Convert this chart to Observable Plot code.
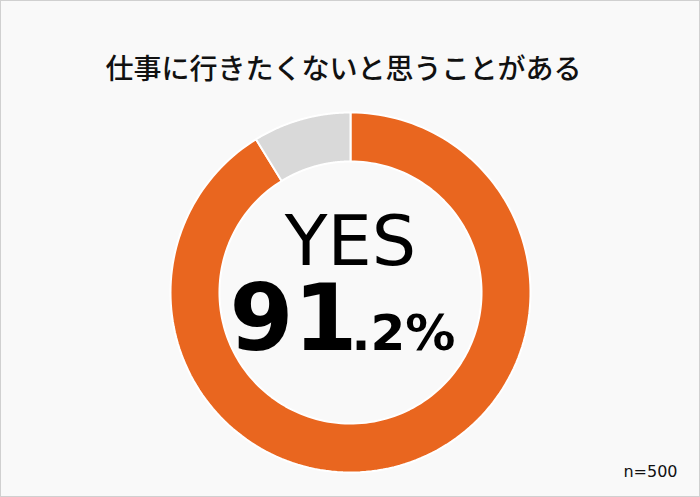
<!DOCTYPE html>
<html>
<head>
<meta charset="utf-8">
<script src="https://cdn.jsdelivr.net/npm/d3@7"></script>
<script src="https://cdn.jsdelivr.net/npm/@observablehq/plot@0.6"></script>
<style>
  html, body { margin: 0; padding: 0; background: #f9f9f9; }
  #chart { width: 700px; height: 497px; box-sizing: border-box; border: 1px solid #d0d0d0; background: #f9f9f9; overflow: hidden; }
  #chart svg { display: block; }
</style>
</head>
<body>
<div id="chart"></div>
<script>
const title = "仕事に行きたくないと思うことがある";
const categories = ["YES", "NO"];
const values = [91.2, 8.8];
const colors = ["#E9661F", "#D9D9D9"];
const sampleSize = "n=500";

const innerRatio = 0.728;
const steps = 180;

// build ring polygons from the data (angles clockwise from the top)
const total = d3.sum(values);
const rings = [];
let cum = 0;
categories.forEach((cat, i) => {
  const a0 = cum / total * 2 * Math.PI;
  cum += values[i];
  const a1 = cum / total * 2 * Math.PI;
  const pts = [];
  for (let k = 0; k <= steps; k++) {
    const a = a0 + (a1 - a0) * k / steps;
    pts.push({cat, x: Math.sin(a), y: Math.cos(a)});
  }
  for (let k = steps; k >= 0; k--) {
    const a = a0 + (a1 - a0) * k / steps;
    pts.push({cat, x: innerRatio * Math.sin(a), y: innerRatio * Math.cos(a)});
  }
  pts.push({...pts[0]});
  rings.push(...pts);
});

const yesValue = values[0].toFixed(1);
const intPart = yesValue.split(".")[0];
const decPart = "." + yesValue.split(".")[1] + "%";

const chart = Plot.plot({
  width: 698,
  height: 495,
  marginLeft: 169,
  marginRight: 169,
  marginTop: 111,
  marginBottom: 24,
  style: {background: "#f9f9f9", overflow: "visible"},
  x: {domain: [-1, 1], axis: null},
  y: {domain: [-1, 1], axis: null},
  color: {domain: categories, range: colors},
  marks: [
    Plot.line(rings, {x: "x", y: "y", z: "cat", fill: "cat", stroke: "#ffffff", strokeWidth: 2, curve: "linear"}),
    Plot.text([title], {text: d => d, frameAnchor: "top", dx: -7, dy: -53, fontSize: 28, fontFamily: "Noto Sans CJK JP", fontWeight: 500, fill: "#111"}),
    Plot.text([categories[0]], {text: d => d, frameAnchor: "middle", dy: -50, fontSize: 70, fontFamily: "DejaVu Sans", fontWeight: 400, letterSpacing: 1, fill: "#000"}),
    Plot.text([intPart], {text: d => d, frameAnchor: "middle", textAnchor: "end", dx: 7, dy: 28, fontSize: 92, fontFamily: "DejaVu Sans", fontWeight: 700, letterSpacing: -5, fill: "#000"}),
    Plot.text([decPart], {text: d => d, frameAnchor: "middle", textAnchor: "start", dx: 1, dy: 41, fontSize: 50, fontFamily: "DejaVu Sans", fontWeight: 700, letterSpacing: 0, fill: "#000"}),
    Plot.text([sampleSize], {text: d => d, frameAnchor: "bottom-right", textAnchor: "end", dx: 147, dy: 4, fontSize: 16, fontFamily: "DejaVu Sans", fill: "#111"})
  ]
});
document.getElementById("chart").appendChild(chart);
</script>
</body>
</html>
